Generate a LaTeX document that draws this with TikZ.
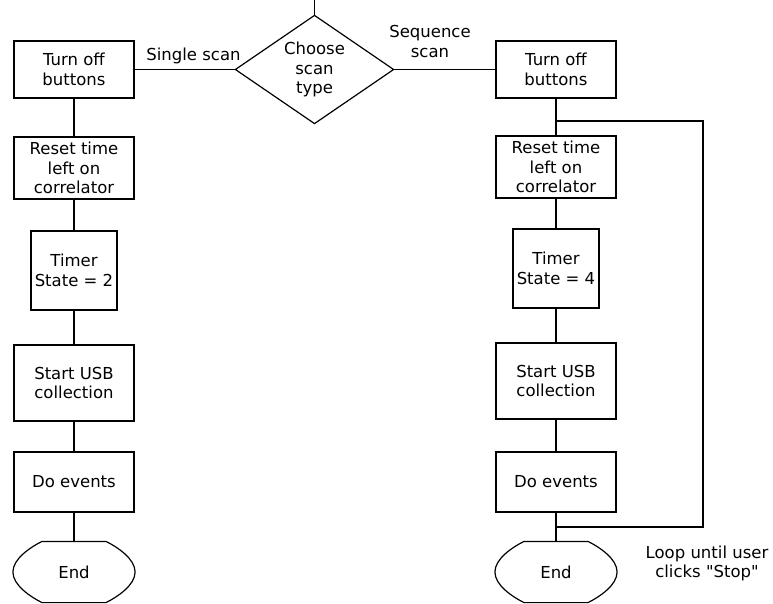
\documentclass[tikz,border=0pt]{standalone}
\usepackage{fontspec}
\setmainfont{DejaVu Sans}[Ligatures=TeXOff]
\usetikzlibrary{calc}

% Terminal (end) symbol drawn around a named node
\newcommand\terminalshape[1]{%
  \draw ($(#1.north)+(-32,0)$) -- ($(#1.north)+(32,0)$)
    .. controls +(12,6) and +(0,-13) .. (#1.east)
    .. controls +(0,13) and +(12,-6) .. ($(#1.south)+(32,0)$)
    -- ($(#1.south)+(-32,0)$)
    .. controls +(-12,-6) and +(0,13) .. (#1.west)
    .. controls +(0,-13) and +(-12,6) .. ($(#1.north)+(-32,0)$) -- cycle;}

\begin{document}
\begin{tikzpicture}[x=1pt, y=-1pt, line width=1.2pt,
  every node/.style={font=\fontsize{16.5}{19.5}\selectfont, align=center, inner sep=0pt},
  box/.style={draw, minimum width=120pt},
  timerbox/.style={draw, minimum width=86pt, minimum height=79pt},
  endbox/.style={minimum width=121pt, minimum height=60pt},
  decision/.style={minimum width=157pt, minimum height=107pt}]
\useasboundingbox (0,0) rectangle (773,604);

% decision
\coordinate (top) at (314.5,0);
\node[decision] (d) at (314.5,69.5) {Choose\\scan\\type};
\draw (d.north) -- (d.east) -- (d.south) -- (d.west) -- cycle;
\draw (top) -- (d.north);

% single scan branch
\node[box, minimum height=57pt] (a1) at (74,69.5) {Turn off\\buttons};
\node[box, minimum height=62pt] (a2) at (74,168) {Reset time\\left on\\correlator};
\node[timerbox] (a3) at (74,270.5) {Timer\\State = 2};
\node[box, minimum height=76pt] (a4) at (74,383) {Start USB\\collection};
\node[box, minimum height=60pt] (a5) at (74,482) {Do events};
\node[endbox] (a6) at (74,572) {End};
\terminalshape{a6}

% sequence scan branch
\node[box, minimum height=57pt] (b1) at (556,69.5) {Turn off\\buttons};
\node[box, minimum height=62pt] (b2) at (556,167) {Reset time\\left on\\correlator};
\node[timerbox] (b3) at (556,268.5) {Timer\\State = 4};
\node[box, minimum height=76pt] (b4) at (556,381) {Start USB\\collection};
\node[box, minimum height=60pt] (b5) at (556,482) {Do events};
\node[endbox] (b6) at (556,572) {End};
\terminalshape{b6}

% labels
\node (lsingle) at (193.5,55.5) {Single scan};
\node (lseq) at (430,41.5) {Sequence\\scan};
\node (lloop) at (707,563.5) {Loop until user\\clicks "Stop"};

% connectors
\draw (d.west) -- (a1.east);
\draw (d.east) -- (b1.west);
\draw (a1.south) -- (a2.north);
\draw (a2.south) -- (a3.north);
\draw (a3.south) -- (a4.north);
\draw (a4.south) -- (a5.north);
\draw (a5.south) -- (a6.north);

\coordinate (j1) at (556,121);
\coordinate (j2) at (556,527);
\coordinate (c1) at (703,121);
\coordinate (c2) at (703,527);
\draw (b1.south) -- (j1) -- (b2.north);
\draw (b2.south) -- (b3.north);
\draw (b3.south) -- (b4.north);
\draw (b4.south) -- (b5.north);
\draw (b5.south) -- (j2) -- (b6.north);
\draw (j2) -- (c2) -- (c1) -- (j1);
\end{tikzpicture}
\end{document}
